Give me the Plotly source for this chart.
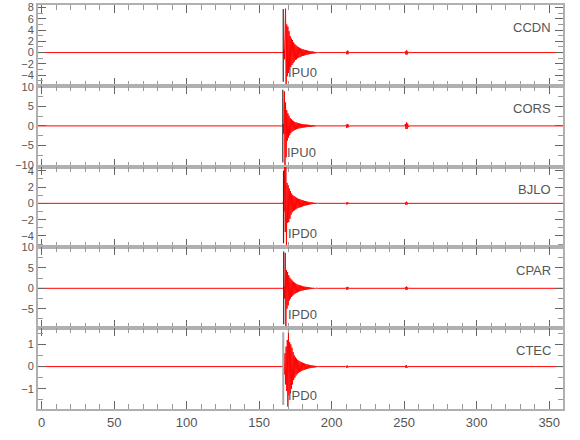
import plotly.graph_objects as go
from plotly.subplots import make_subplots

# ---------------- data ----------------
stations = ["CCDN", "CORS", "BJLO", "CPAR", "CTEC"]
pick_labels = ["IPU0", "IPU0", "IPD0", "IPD0", "IPD0"]
pick_times = [166.6, 166.3, 166.8, 166.9, 166.6]
onset_times = [167.0, 166.6, 166.8, 167.2, 167.0]
sample_dt = 0.4
bump1_time = 210.0
bump2_time = 250.8

ccdn_coda = [0.4, -1.2, 3.0, 7.8, -7.5, 5.0, -4.2, 4.6, -3.6, 3.8,
             -3.0, 2.9, -2.6, 2.5, -2.2, 2.2, -1.9, 1.8, -1.6, 1.5,
             -1.3, 1.3, -1.2, 1.1, -1.0, 1.0, -0.9, 0.85, -0.8, 0.75,
             -0.7, 0.65, -0.6, 0.6, -0.55, 0.5, -0.5, 0.45, -0.42, 0.4,
             -0.38, 0.35, -0.33, 0.3, -0.28, 0.27, -0.25, 0.22, -0.2, 0.2,
             -0.18, 0.16, -0.15, 0.13, -0.12, 0.1, -0.09, 0.08, -0.06, 0.05]
cors_coda = [0.5, -2.0, 8.8, -10.5, 6.0, -8.0, 4.0, -3.8, 3.2, -3.0,
             2.6, -2.4, 2.0, -1.9, 1.7, -1.5, 1.4, -1.3, 1.2, -1.1,
             1.0, -0.95, 0.9, -0.85, 0.8, -0.75, 0.7, -0.65, 0.6, -0.6,
             0.55, -0.5, 0.5, -0.45, 0.45, -0.4, 0.4, -0.38, 0.35, -0.35,
             0.33, -0.3, 0.3, -0.28, 0.27, -0.25, 0.25, -0.23, 0.22, -0.2,
             0.2, -0.18, 0.17, -0.15, 0.14, -0.13, 0.12, -0.1, 0.1, -0.08]
bjlo_coda = [0.3, -1.0, 4.8, -3.5, 4.8, -6.0, 2.5, -2.4, 2.2, -2.3,
             1.8, -1.9, 1.5, -1.4, 1.2, -1.1, 1.0, -0.95, 0.9, -0.85,
             0.8, -0.75, 0.7, -0.65, 0.6, -0.58, 0.55, -0.52, 0.5, -0.48,
             0.45, -0.42, 0.4, -0.38, 0.35, -0.33, 0.3, -0.28, 0.27, -0.25,
             0.23, -0.22, 0.2, -0.18, 0.17, -0.15, 0.14, -0.12, 0.11, -0.1,
             0.1, -0.09, 0.08, -0.07, 0.07, -0.06, 0.05, -0.05, 0.04, -0.03]
cpar_coda = [0.5, -2.5, 8.7, -10.5, 4.5, -5.0, 4.0, -4.2, 3.2, -3.0,
             2.6, -2.5, 2.2, -2.1, 1.9, -1.8, 1.6, -1.5, 1.4, -1.3,
             1.2, -1.1, 1.0, -1.0, 0.9, -0.85, 0.8, -0.75, 0.7, -0.65,
             0.6, -0.55, 0.5, -0.5, 0.45, -0.42, 0.4, -0.37, 0.35, -0.33,
             0.3, -0.28, 0.26, -0.24, 0.22, -0.2, 0.18, -0.16, 0.14, -0.12,
             0.12, -0.11, 0.1, -0.09, 0.08, -0.07, 0.06, -0.05, 0.05, -0.04]
ctec_coda = [0.15, -0.35, 0.6, -0.8, 0.9, -1.1, 1.2, -1.8, 1.65, -1.3,
             1.1, -1.2, 1.0, -1.0, 0.85, -0.8, 0.65, -0.6, 0.5, -0.5,
             0.42, -0.4, 0.36, -0.34, 0.3, -0.28, 0.26, -0.25, 0.23, -0.22,
             0.2, -0.19, 0.18, -0.17, 0.16, -0.15, 0.14, -0.13, 0.12, -0.11,
             0.1, -0.1, 0.09, -0.08, 0.08, -0.07, 0.06, -0.06, 0.05, -0.05,
             0.05, -0.04, 0.04, -0.04, 0.03, -0.03, 0.03, -0.02, 0.02, -0.02]
codas = [ccdn_coda, cors_coda, bjlo_coda, cpar_coda, ctec_coda]

ccdn_bumps = ([0.15, -0.3, 0.35, -0.3, 0.2, -0.1], [0.2, -0.35, 0.4, -0.35, 0.2, -0.1])
cors_bumps = ([0.3, -0.5, 0.5, -0.4, 0.3, -0.2], [0.5, -0.8, 0.9, -0.8, 0.6, -0.3])
bjlo_bumps = ([0.08, -0.15, 0.15, -0.1, 0.06], [0.1, -0.18, 0.2, -0.15, 0.08])
cpar_bumps = ([0.2, -0.35, 0.35, -0.3, 0.2], [0.25, -0.4, 0.45, -0.35, 0.2])
ctec_bumps = ([0.03, -0.05, 0.05, -0.04], [0.04, -0.06, 0.07, -0.05])
bumps = [ccdn_bumps, cors_bumps, bjlo_bumps, cpar_bumps, ctec_bumps]

y_ranges = [[-5.9, 8.45], [-10.4, 10.25], [-5.4, 4.5], [-9.8, 10.05], [-1.91, 1.73]]
y_dticks = [2, 5, 2, 5, 1]
x_range = [-2.5, 359.5]

# ---------------- figure ----------------
FONT = "Liberation Sans Narrow, Liberation Sans, Arial, sans-serif"
GRAY_TXT = "#555555"

fig = make_subplots(rows=5, cols=1, shared_xaxes=True, vertical_spacing=0)

def build_trace(t0, coda, bump_pair):
    xs = [x_range[0], t0 - sample_dt]
    ys = [0, 0]
    for i, a in enumerate(coda):
        xs.append(t0 + i * sample_dt)
        ys.append(a)
    xs.append(t0 + len(coda) * sample_dt)
    ys.append(0)
    for bt, b in ((bump1_time, bump_pair[0]), (bump2_time, bump_pair[1])):
        xs.append(bt - sample_dt)
        ys.append(0)
        for i, a in enumerate(b):
            xs.append(bt + i * sample_dt)
            ys.append(a)
        xs.append(bt + len(b) * sample_dt)
        ys.append(0)
    xs.append(x_range[1])
    ys.append(0)
    return xs, ys

for k in range(5):
    r = k + 1
    xs, ys = build_trace(onset_times[k], codas[k], bumps[k])
    fig.add_trace(go.Scatter(x=xs, y=ys, mode="lines",
                             line=dict(color="#ff0000", width=1),
                             showlegend=False, hoverinfo="skip"), row=r, col=1)
    ysuf = "" if r == 1 else str(r)
    line_col = "#aaaaaa" if r == 5 else "#333333"
    line_w = 2 if r == 5 else 1.2
    fig.add_shape(type="line", xref="x" + ysuf, yref="y" + ysuf + " domain",
                  x0=pick_times[k], x1=pick_times[k], y0=0.05, y1=0.95,
                  line=dict(color=line_col, width=line_w))
    fig.add_annotation(xref="x" + ysuf, yref="y" + ysuf + " domain",
                       x=pick_times[k] + 1.8, y=0.17, text=pick_labels[k],
                       showarrow=False, xanchor="left", yanchor="middle",
                       font=dict(family=FONT, size=13, color=GRAY_TXT))
    fig.add_annotation(xref="x" + ysuf + " domain", yref="y" + ysuf + " domain",
                       x=0.98, y=0.72, text=stations[k],
                       showarrow=False, xanchor="right", yanchor="middle",
                       font=dict(family=FONT, size=13, color=GRAY_TXT))
    fig.update_yaxes(row=r, col=1, range=y_ranges[k], dtick=y_dticks[k],
                     tick0=0, ticks="inside", ticklen=8, tickcolor="#666666",
                     minor=dict(dtick=y_dticks[k] / 2, ticks="inside", ticklen=5,
                                tickcolor="#999999"),
                     showline=True, linecolor="#b0b0b0", linewidth=2,
                     mirror="ticks", showgrid=False, zeroline=False,
                     automargin=False, ticklabeloverflow="allow",
                     tickfont=dict(family=FONT, size=11, color=GRAY_TXT))
    fig.update_xaxes(row=r, col=1, range=x_range, dtick=50, tick0=0,
                     ticks="inside", ticklen=8, tickcolor="#666666",
                     minor=dict(dtick=10, ticks="inside", ticklen=5,
                                tickcolor="#999999"),
                     showline=True, linecolor="#b0b0b0", linewidth=2,
                     mirror="ticks", showgrid=False, zeroline=False,
                     automargin=False, ticklabeloverflow="allow",
                     tickfont=dict(family=FONT, size=13, color=GRAY_TXT))

fig.update_layout(width=580, height=440,
                  margin=dict(l=38, r=17, t=5, b=31, autoexpand=False),
                  paper_bgcolor="white", plot_bgcolor="white")

# remove the browser's default 8px body margin so the figure fills the window
fig.write_html("out.html", config={"displayModeBar": False},
               post_script="document.body.style.margin='0';")
